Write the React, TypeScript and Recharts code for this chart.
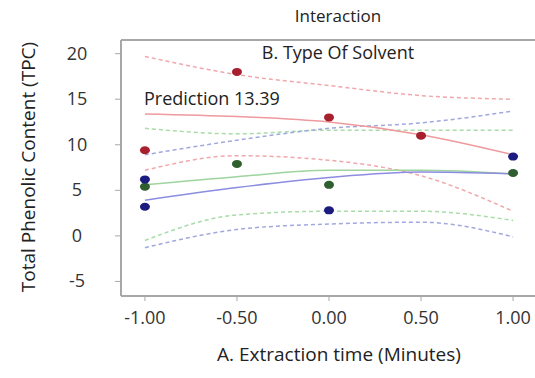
import { ComposedChart, Line, Scatter, XAxis, YAxis, ReferenceLine } from "recharts"

// A. Extraction time (coded)
const times = [-1, -0.5, 0, 0.5, 1]

// fitted lines and confidence bands per solvent
const redFit = [13.39, 13.1, 12.5, 11.1, 8.9]
const redUpper = [19.7, 17.7, 16.5, 15.4, 15.0]
const redLower = [7.2, 8.8, 8.3, 6.6, 2.7]
const greenFit = [5.6, 6.5, 7.2, 7.2, 6.8]
const greenUpper = [11.8, 11.2, 11.6, 11.6, 11.6]
const greenLower = [-0.5, 2.3, 2.7, 2.7, 1.7]
const blueFit = [3.9, 5.3, 6.4, 7.0, 6.8]
const blueUpper = [8.9, 10.5, 11.8, 12.4, 13.7]
const blueLower = [-1.3, 0.7, 1.3, 1.5, -0.1]

// observed design points
const redPointsX = [-1, -0.5, 0, 0.5]
const redPointsY = [9.4, 18.0, 13.0, 11.0]
const bluePointsX = [-1, -1, 0, 1]
const bluePointsY = [6.2, 3.2, 2.8, 8.7]
const greenPointsX = [-1, -0.5, 0, 1]
const greenPointsY = [5.4, 7.9, 5.6, 6.9]

const xTicks = [-1, -0.5, 0, 0.5, 1]
const yTicks = [-5, 0, 5, 10, 15, 20]

const font = "'Open Sans', sans-serif"

const data = times.map((x, i) => ({
  x,
  redFit: redFit[i],
  redUpper: redUpper[i],
  redLower: redLower[i],
  greenFit: greenFit[i],
  greenUpper: greenUpper[i],
  greenLower: greenLower[i],
  blueFit: blueFit[i],
  blueUpper: blueUpper[i],
  blueLower: blueLower[i],
}))

const toPoints = (xs: number[], ys: number[]) => xs.map((x, i) => ({ x, y: ys[i] }))

const dot = (fill: string) => (props: any) => (
  <ellipse cx={props.cx} cy={props.cy} rx={5} ry={4} fill={fill} />
)

const XTick = (props: any) => (
  <text x={props.x} y={props.y + 21} textAnchor="middle" fontSize={18} fill="#333" fontFamily={font}>
    {Number(props.payload.value).toFixed(2)}
  </text>
)

const YTick = (props: any) => (
  <text x={77} y={props.y + 6} textAnchor="middle" fontSize={18} fill="#333" fontFamily={font}>
    {props.payload.value}
  </text>
)

export default function App() {
  return (
    <div style={{ position: "absolute", left: 0, top: 0, width: 535, height: 378, overflow: "hidden", background: "#fff", fontFamily: font }}>
      <ComposedChart width={540} height={378} data={data} margin={{ top: 40, right: 3, bottom: 52, left: 0 }}>
        <XAxis
          dataKey="x"
          type="number"
          domain={[-1.13, 1.13]}
          ticks={xTicks}
          tick={<XTick />}
          tickSize={5}
          height={30}
          axisLine={{ stroke: "#a8a8a8", strokeWidth: 2 }}
          tickLine={{ stroke: "#a8a8a8" }}
          allowDataOverflow
        />
        <YAxis
          type="number"
          domain={[-6.6, 21.5]}
          ticks={yTicks}
          tick={<YTick />}
          tickSize={6}
          width={121}
          axisLine={{ stroke: "#a8a8a8", strokeWidth: 2 }}
          tickLine={{ stroke: "#a8a8a8" }}
          allowDataOverflow
        />
        <ReferenceLine y={21.5} stroke="#a8a8a8" strokeWidth={2} />
        <Line type="monotone" dataKey="redUpper" stroke="#f0a8ac" strokeWidth={1.5} strokeDasharray="4 3" dot={false} isAnimationActive={false} />
        <Line type="monotone" dataKey="redLower" stroke="#f0a8ac" strokeWidth={1.5} strokeDasharray="4 3" dot={false} isAnimationActive={false} />
        <Line type="monotone" dataKey="greenUpper" stroke="#a8dca8" strokeWidth={1.5} strokeDasharray="4 3" dot={false} isAnimationActive={false} />
        <Line type="monotone" dataKey="greenLower" stroke="#a8dca8" strokeWidth={1.5} strokeDasharray="4 3" dot={false} isAnimationActive={false} />
        <Line type="monotone" dataKey="blueUpper" stroke="#a0a8e0" strokeWidth={1.5} strokeDasharray="4 3" dot={false} isAnimationActive={false} />
        <Line type="monotone" dataKey="blueLower" stroke="#a0a8e0" strokeWidth={1.5} strokeDasharray="4 3" dot={false} isAnimationActive={false} />
        <Line type="monotone" dataKey="redFit" stroke="#ee9a9e" strokeWidth={1.5} dot={false} isAnimationActive={false} />
        <Line type="monotone" dataKey="greenFit" stroke="#9ed49e" strokeWidth={1.5} dot={false} isAnimationActive={false} />
        <Line type="monotone" dataKey="blueFit" stroke="#8c8ce0" strokeWidth={1.5} dot={false} isAnimationActive={false} />
        <Scatter data={toPoints(redPointsX, redPointsY)} dataKey="y" shape={dot("#a8202e")} isAnimationActive={false} />
        <Scatter data={toPoints(greenPointsX, greenPointsY)} dataKey="y" shape={dot("#2f5f2f")} isAnimationActive={false} />
        <Scatter data={toPoints(bluePointsX, bluePointsY)} dataKey="y" shape={dot("#1c1c80")} isAnimationActive={false} />
      </ComposedChart>
      <div style={{ position: "absolute", left: 0, width: 676, top: 4, textAlign: "center", fontSize: 17, color: "#222" }}>Interaction</div>
      <div style={{ position: "absolute", left: 0, width: 676, top: 40, textAlign: "center", fontSize: 18, color: "#222" }}>B. Type Of Solvent</div>
      <div style={{ position: "absolute", left: 144, top: 86, fontSize: 18, color: "#222" }}>Prediction 13.39</div>
      <div style={{ position: "absolute", left: 0, width: 678, top: 341, textAlign: "center", fontSize: 19, color: "#222" }}>A. Extraction time (Minutes)</div>
      <div style={{ position: "absolute", left: 28, top: 167, width: 0, height: 0 }}>
        <div style={{ position: "absolute", transform: "translate(-50%, -50%) rotate(-90deg)", whiteSpace: "nowrap", fontSize: 19, color: "#222" }}>
          Total Phenolic Content (TPC)
        </div>
      </div>
    </div>
  )
}
